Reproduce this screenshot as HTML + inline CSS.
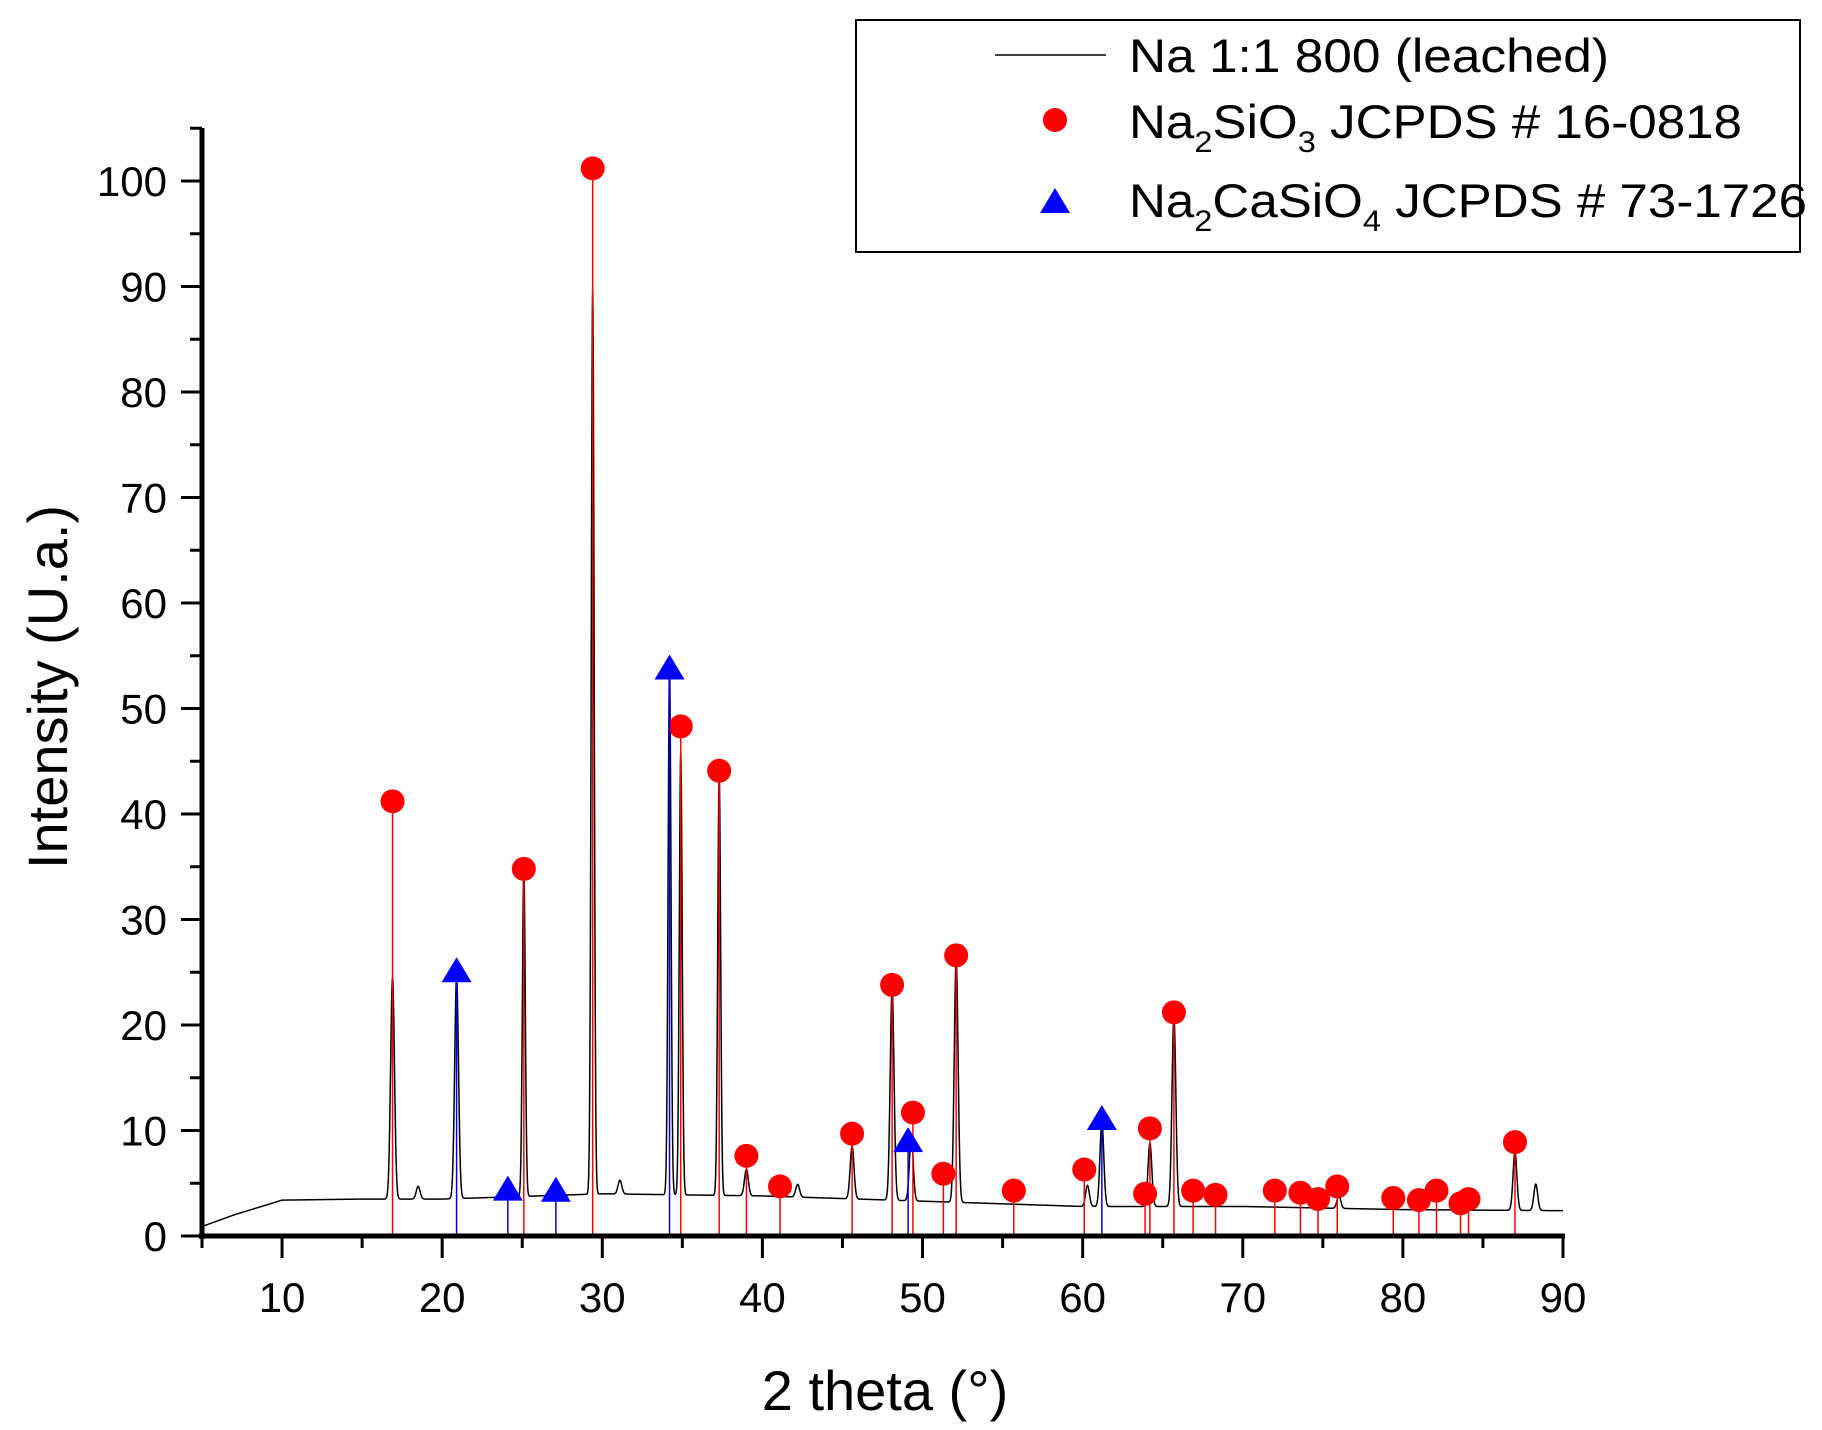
<!DOCTYPE html>
<html><head><meta charset="utf-8"><style>
html,body{margin:0;padding:0;background:#fff;}
svg{display:block;font-family:"Liberation Sans",Arial,sans-serif;}
</style></head><body>
<svg id="chart" width="1822" height="1430" viewBox="0 0 1822 1430">
<g id="plot"></g>
<g id="axes"></g>
<g>
<rect x="856" y="20" width="944" height="232" fill="#fff" stroke="#000" stroke-width="2"/>
<line x1="995" y1="55" x2="1106" y2="55" stroke="#000" stroke-width="1.5"/>
<text x="1129" y="72" font-size="47" textLength="480" lengthAdjust="spacingAndGlyphs">Na 1:1 800 (leached)</text>
<circle cx="1055" cy="120" r="12" fill="#f00"/>
<text x="1129" y="138" font-size="47" textLength="613" lengthAdjust="spacingAndGlyphs">Na<tspan font-size="30" dy="14">2</tspan><tspan dy="-14">SiO</tspan><tspan font-size="30" dy="14">3</tspan><tspan dy="-14"> JCPDS # 16-0818</tspan></text>
<polygon points="1055,188 1040,213 1070,213" fill="#00f"/>
<text x="1129" y="217" font-size="47" textLength="678" lengthAdjust="spacingAndGlyphs">Na<tspan font-size="30" dy="14">2</tspan><tspan dy="-14">CaSiO</tspan><tspan font-size="30" dy="14">4</tspan><tspan dy="-14"> JCPDS # 73-1726</tspan></text>
</g>
<text transform="translate(67,687) rotate(-90)" text-anchor="middle" font-size="56">Intensity (U.a.)</text>
<text x="885" y="1410" text-anchor="middle" font-size="56">2 theta (°)</text>
</svg>
<script>
const redX=[16.9,25.1,29.4,34.9,37.3,39.0,41.1,45.6,48.1,49.4,51.3,52.1,55.7,60.1,63.9,64.2,65.7,66.9,68.3,72.0,73.6,74.7,75.9,79.4,81.0,82.1,83.6,84.1,87.0];
const redY=[41.2,34.8,101.2,48.3,44.1,7.6,4.7,9.7,23.8,11.7,5.9,26.6,4.3,6.3,4.0,10.2,21.2,4.3,3.9,4.3,4.1,3.5,4.7,3.6,3.4,4.3,3.1,3.5,8.9];
const blueX=[20.9,24.1,27.1,34.2,49.1,61.2];
const blueY=[25.0,4.3,4.2,53.7,8.9,11.0];
const baseX=[5,7,10,15,20,30,40,50,60,70,80,90];
const baseY=[0.9,2.0,3.4,3.5,3.5,4.0,3.8,3.3,2.8,2.8,2.5,2.4];
const peakX=[16.9,18.5,20.9,25.1,29.4,31.1,34.2,34.9,37.3,39.0,42.2,45.6,48.1,49.3,52.1,60.3,61.2,64.2,65.7,76.0,87.0,88.3];
const peakH=[21,1.2,21,31,86,1.3,50,42,40,2.5,1.2,5,20,6,23,2,8,6,18,1.2,5.5,2.5];
const xTicks=[10,20,30,40,50,60,70,80,90];
const yTicks=[0,10,20,30,40,50,60,70,80,90,100];

const X0=5,X1=90,PL=202,PR=1563,Y0=1236,Y100=181;
const sx=v=>PL+(v-X0)*(PR-PL)/(X1-X0);
const sy=v=>Y0-v*(Y0-Y100)/100;
const NS="http://www.w3.org/2000/svg";
const plot=document.getElementById('plot'),axes=document.getElementById('axes');
function mk(tag,attrs,parent){const e=document.createElementNS(NS,tag);for(const k in attrs)e.setAttribute(k,attrs[k]);parent.appendChild(e);return e;}
function base(x){for(let i=0;i<baseX.length-1;i++){if(x<=baseX[i+1]){const t=(x-baseX[i])/(baseX[i+1]-baseX[i]);return baseY[i]+t*(baseY[i+1]-baseY[i]);}}return baseY[baseY.length-1];}
let d="";
for(let x=X0;x<=X1+1e-9;x+=0.02){let y=base(x);for(let i=0;i<peakX.length;i++){const w=peakH[i]>30?0.09:0.12;y+=peakH[i]*Math.exp(-((x-peakX[i])**2)/(2*w*w));}d+=(d?"L":"M")+sx(x).toFixed(2)+","+sy(y).toFixed(2);}
const tr=mk('path',{d:d,fill:"none",stroke:"#000","stroke-width":1.5},plot);


redX.forEach((x,i)=>{
 const l=mk('line',{x1:sx(x),x2:sx(x),y1:Y0,y2:sy(redY[i]),stroke:"#f00","stroke-width":1.5},plot);
 
 
 const c=mk('circle',{cx:sx(x),cy:sy(redY[i]),r:12,fill:"#f00"},plot);
 
 
});
blueX.forEach((x,i)=>{
 const l=mk('line',{x1:sx(x),x2:sx(x),y1:Y0,y2:sy(blueY[i]),stroke:"#00f","stroke-width":1.5},plot);
 
 
 const cx=sx(x),cy=sy(blueY[i]);
 const p=mk('polygon',{points:`${cx},${cy-15} ${cx-15},${cy+10} ${cx+15},${cy+10}`,fill:"#00f"},plot);
 
 
});
const ya=mk('line',{x1:PL,x2:PL,y1:128,y2:Y0+3,stroke:"#000","stroke-width":5},axes);


const xa=mk('line',{x1:PL-3,x2:PR+2,y1:Y0,y2:Y0,stroke:"#000","stroke-width":5},axes);


for(let v=0;v<=105;v+=5){const major=v%10===0;
 const t=mk('line',{x1:PL-(major?21:12),x2:PL,y1:sy(v),y2:sy(v),stroke:"#000","stroke-width":3},axes);
 
 }
yTicks.forEach(v=>{const t=mk('text',{x:167,y:sy(v)+15,"text-anchor":"end","font-size":42},axes);t.textContent=v;
 
 });
for(let v=5;v<=90;v+=5){const major=v%10===0;
 const t=mk('line',{x1:sx(v),x2:sx(v),y1:Y0,y2:Y0+(major?22:12),stroke:"#000","stroke-width":3},axes);
 
 }
xTicks.forEach(v=>{const t=mk('text',{x:sx(v),y:1312,"text-anchor":"middle","font-size":42},axes);t.textContent=v;
 
 });
</script>
</body></html>
